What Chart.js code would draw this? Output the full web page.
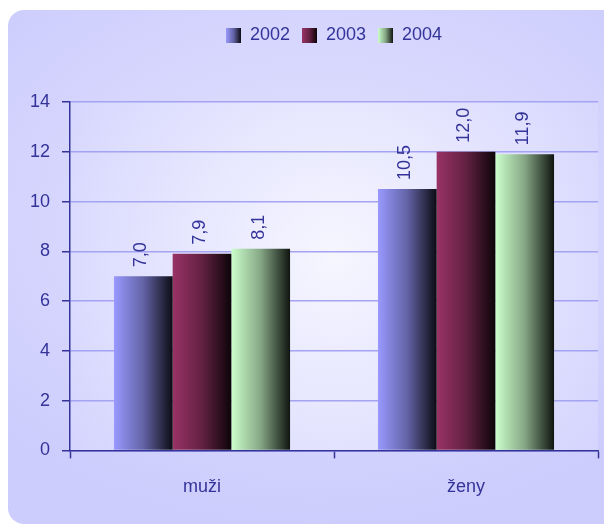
<!DOCTYPE html>
<html>
<head>
<meta charset="utf-8">
<script src="https://cdn.jsdelivr.net/npm/chart.js@4"></script>
<style>
  body { margin: 0; background: #ffffff; }
  #wrap { position: relative; width: 604px; height: 524px; overflow: hidden; }
  #panel {
    position: absolute; left: 8px; top: 10px; width: 620px; height: 514px;
    border-radius: 16px;
    background: radial-gradient(ellipse 70% 60% at 50% 40%, #e2e2ff 0%, #cdcdfd 100%);
  }
  canvas { position: absolute; left: 0; top: 0; }
</style>
</head>
<body>
<div id="wrap">
  <div id="panel"></div>
  <canvas id="chart" width="604" height="524"></canvas>
</div>
<script>
// Data
var categories = ['muži', 'ženy'];
var years = ['2002', '2003', '2004'];
var values2002 = [7.0, 10.5];
var values2003 = [7.9, 12.0];
var values2004 = [8.1, 11.9];
var yTicks = [0, 2, 4, 6, 8, 10, 12, 14];

// left colour of each bar gradient, fading to near black on the right
var barColors = [[153, 153, 255], [153, 51, 102], [204, 255, 204]];
var textColor = '#333399';
var fontFamily = "'Liberation Sans', Arial, sans-serif";
var fontSize = 18;

function shade(rgb, k) {
    return 'rgb(' + rgb.map(function(v) { return Math.round(v * k); }).join(',') + ')';
}

function makeGradient(ctx, x0, x1, rgb) {
    var g = ctx.createLinearGradient(x0, 0, x1, 0);
    g.addColorStop(0, shade(rgb, 1));
    g.addColorStop(0.5, shade(rgb, 0.65));
    g.addColorStop(1, shade(rgb, 0.08));
    return g;
}

// small gradient swatches for the legend
function makeSwatch(rgb) {
    var c = document.createElement('canvas');
    c.width = 15;
    c.height = 15;
    var cx = c.getContext('2d');
    cx.fillStyle = makeGradient(cx, 0, 15, rgb);
    cx.fillRect(0, 0, 15, 15);
    return c;
}
var swatches = barColors.map(makeSwatch);

// light radial fill behind the plot area
const plotBackground = {
    id: 'plotBackground',
    beforeDraw(chart) {
        const a = chart.chartArea;
        const ctx = chart.ctx;
        const cx = (a.left + a.right) / 2;
        const cy = (a.top + a.bottom) / 2 - 20;
        const g = ctx.createRadialGradient(cx, cy, 0, cx, cy, 330);
        g.addColorStop(0, '#f6f6ff');
        g.addColorStop(1, '#d4d4fe');
        ctx.save();
        ctx.fillStyle = g;
        ctx.fillRect(a.left, a.top, a.right - a.left, a.bottom - a.top);
        ctx.restore();
    }
};

// horizontal gradient on every bar
const barGradient = {
    id: 'barGradient',
    beforeDatasetsDraw(chart) {
        chart.data.datasets.forEach(function(ds, i) {
            chart.getDatasetMeta(i).data.forEach(function(bar) {
                const x0 = bar.x - bar.width / 2;
                const x1 = bar.x + bar.width / 2;
                bar.options = Object.assign({}, bar.options, {
                    backgroundColor: makeGradient(chart.ctx, x0, x1, barColors[i])
                });
            });
        });
    }
};

// rotated value labels above bars
const valueLabels = {
    id: 'valueLabels',
    afterDatasetsDraw(chart) {
        const ctx = chart.ctx;
        ctx.save();
        ctx.fillStyle = textColor;
        ctx.font = fontSize + 'px ' + fontFamily;
        ctx.textAlign = 'left';
        ctx.textBaseline = 'middle';
        chart.data.datasets.forEach(function(ds, i) {
            chart.getDatasetMeta(i).data.forEach(function(bar, j) {
                const label = ds.data[j].toFixed(1).replace('.', ',');
                ctx.save();
                ctx.translate(bar.x - 2, bar.y - 9);
                ctx.rotate(-Math.PI / 2);
                ctx.fillText(label, 0, 0);
                ctx.restore();
            });
        });
        ctx.restore();
    }
};

// extra room under the legend
const legendSpacing = {
    id: 'legendSpacing',
    beforeInit(chart) {
        const fit = chart.legend.fit;
        chart.legend.fit = function() {
            fit.bind(chart.legend)();
            this.height += 48;
        };
    }
};

const ctx = document.getElementById('chart').getContext('2d');
const chart = new Chart(ctx, {
    type: 'bar',
    data: {
        labels: categories,
        datasets: [
            { label: years[0], data: values2002, backgroundColor: shade(barColors[0], 1) },
            { label: years[1], data: values2003, backgroundColor: shade(barColors[1], 1) },
            { label: years[2], data: values2004, backgroundColor: shade(barColors[2], 1) }
        ]
    },
    options: {
        responsive: false,
        animation: false,
        layout: { padding: { top: 14, left: 18, right: 6, bottom: 8 } },
        datasets: {
            bar: { barPercentage: 1, categoryPercentage: 0.667, borderWidth: 0 }
        },
        plugins: {
            tooltip: { enabled: false },
            legend: {
                position: 'top',
                fullSize: false,
                labels: {
                    color: textColor,
                    font: { family: fontFamily, size: fontSize },
                    boxWidth: 15,
                    boxHeight: 15,
                    padding: 12,
                    usePointStyle: true,
                    generateLabels: function(chart) {
                        return chart.data.datasets.map(function(ds, i) {
                            return {
                                text: ds.label,
                                pointStyle: swatches[i],
                                fontColor: textColor,
                                lineWidth: 0,
                                datasetIndex: i
                            };
                        });
                    }
                }
            }
        },
        scales: {
            x: {
                grid: {
                    drawOnChartArea: false,
                    tickColor: textColor,
                    tickLength: 8,
                    tickWidth: 1.5
                },
                border: { color: textColor, width: 1.5 },
                ticks: {
                    color: textColor,
                    font: { family: fontFamily, size: fontSize },
                    padding: 18
                }
            },
            y: {
                min: 0,
                max: 14,
                afterBuildTicks: function(axis) {
                    axis.ticks = yTicks.map(function(v) { return { value: v }; });
                },
                grid: {
                    color: '#a4a4f2',
                    lineWidth: 1.5,
                    tickColor: textColor,
                    tickLength: 8
                },
                border: { color: textColor, width: 1.5 },
                ticks: {
                    color: textColor,
                    font: { family: fontFamily, size: fontSize },
                    padding: 12
                }
            }
        }
    },
    plugins: [plotBackground, barGradient, valueLabels, legendSpacing]
});
</script>
</body>
</html>
